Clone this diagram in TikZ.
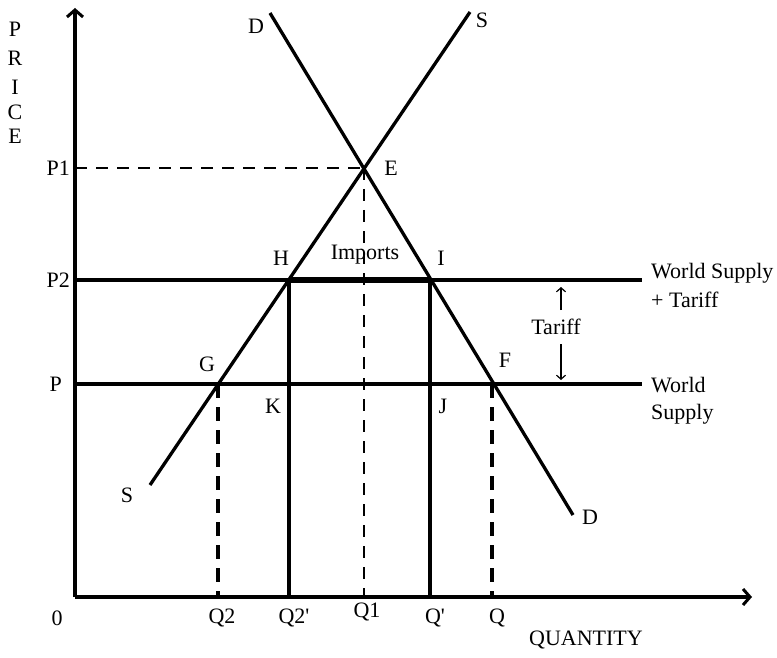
\documentclass[tikz,border=0pt]{standalone}
\usepackage{fontspec}
\setmainfont{Liberation Serif}
\usetikzlibrary{arrows.meta}
\begin{document}
\begin{tikzpicture}[x=1pt,y=-1pt,
  lbl/.style={inner sep=0pt,font=\fontsize{22}{26}\selectfont},
  curve/.style={line width=3.3pt},
  axis/.style={line width=3.8pt,-{Straight Barb[length=7pt,width=16pt,line width=3pt]}},
  sol/.style={line width=3.3pt},
  thindash/.style={line width=1.6pt,dash pattern=on 12pt off 9pt},
  thickdash/.style={line width=3.6pt,dash pattern=on 14pt off 9pt},
  tarrow/.style={line width=1.2pt,-{Straight Barb[length=4pt,width=9pt]}}]
\useasboundingbox (0,0) rectangle (777,658);
% coordinates
\coordinate (O) at (75,597);
\coordinate (Ytop) at (75,8);
\coordinate (Xend) at (752,597);
\coordinate (Dtop) at (270,13);
\coordinate (Dbot) at (573,515);
\coordinate (Sbot) at (150,485);
\coordinate (Stop) at (470,12);
\coordinate (E) at (364,168);
\coordinate (P1a) at (75,168);
\coordinate (Q1a) at (364,597);
\coordinate (P2a) at (75,280);
\coordinate (P2b) at (642,280);
\coordinate (Pa) at (75,384);
\coordinate (Pb) at (642,384);
\coordinate (H) at (289,280);
\coordinate (I) at (430,280);
\coordinate (G) at (218,384);
\coordinate (F) at (492,384);
\coordinate (Q2a) at (218,597);
\coordinate (Q2pa) at (289,597);
\coordinate (Qpa) at (430,597);
\coordinate (Qa) at (492,597);
\coordinate (TUa) at (561,310);
\coordinate (TUb) at (561,287);
\coordinate (TDa) at (561,344);
\coordinate (TDb) at (561,380);
% dashed thin
\draw[thindash] (P1a) -- (E);
\draw[thindash] (E) -- (Q1a);
% horizontal lines
\draw[sol] (P2a) -- (P2b);
\draw[sol] (Pa) -- (Pb);
\draw[line width=6pt] (H) -- (I);
% verticals
\draw[sol] (H) -- (Q2pa);
\draw[sol] (I) -- (Qpa);
\draw[thickdash] (G) -- (Q2a);
\draw[thickdash] (F) -- (Qa);
% curves
\draw[curve] (Dtop) -- (Dbot);
\draw[curve] (Sbot) -- (Stop);
% axes
\draw[axis] (O) -- (Ytop);
\draw[axis] (O) -- (Xend);
% tariff arrows
\draw[tarrow] (TUa) -- (TUb);
\draw[tarrow] (TDa) -- (TDb);
% labels
\node[lbl] (pr1) at (15,29) {P};
\node[lbl] (pr2) at (15,58) {R};
\node[lbl] (pr3) at (15,87) {I};
\node[lbl] (pr4) at (15,112) {C};
\node[lbl] (pr5) at (15,136) {E};
\node[lbl,anchor=east] (lP1) at (70,168) {P1};
\node[lbl,anchor=east] (lP2) at (70,280) {P2};
\node[lbl,anchor=east] (lP) at (62,384) {P};
\node[lbl] (l0) at (57,618) {0};
\node[lbl] (lQ2) at (222,618) {Q2};
\node[lbl] (lQ2p) at (294,618) {Q2\textquotesingle};
\node[lbl] (lQ1) at (367,612) {Q1};
\node[lbl] (lQp) at (435,618) {Q\textquotesingle};
\node[lbl] (lQ) at (497,618) {Q};
\node[lbl] (lQty) at (586,640) {QUANTITY};
\node[lbl] (lDt) at (256,26) {D};
\node[lbl] (lSt) at (482,20) {S};
\node[lbl] (lE) at (391,168) {E};
\node[lbl] (lH) at (281,258) {H};
\node[lbl] (lImp) at (365,255) {Imports};
\node[lbl] (lI) at (441,258) {I};
\node[lbl] (lG) at (207,364) {G};
\node[lbl] (lK) at (273,406) {K};
\node[lbl] (lJ) at (443,406) {J};
\node[lbl] (lF) at (505,360) {F};
\node[lbl] (lSb) at (127,495) {S};
\node[lbl] (lDb) at (590,517) {D};
\node[lbl] (lT) at (556,327) {Tariff};
\node[lbl,anchor=west] (lWST1) at (651,273) {World Supply};
\node[lbl,anchor=west] (lWST2) at (651,300) {+ Tariff};
\node[lbl,anchor=west] (lWS1) at (651,385) {World};
\node[lbl,anchor=west] (lWS2) at (651,414) {Supply};
\end{tikzpicture}
\end{document}
